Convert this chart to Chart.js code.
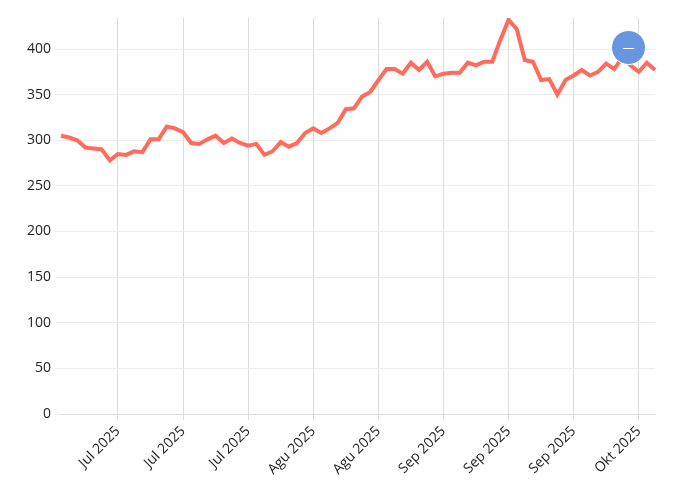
<!DOCTYPE html>
<html><head><meta charset="utf-8">
<script src="https://cdn.jsdelivr.net/npm/chart.js@4"></script>
<style>body{margin:0;background:#fff}#w{position:relative;width:676px;height:500px}
#btn{position:absolute;left:611px;top:30px;width:35px;height:35px;border-radius:50%;background:#6895df;border:1px solid #fff;box-sizing:border-box;color:#fff;font:12px 'Open Sans';display:flex;align-items:center;justify-content:center}</style>
</head><body><div id="w"><canvas id="c" width="676" height="500"></canvas><div id="btn">—</div></div>
<script>
const values=[305,300,292,291,290,278,285,284,288,287,301,301,315,313,309,297,296,301,305,297,302,297,294,296,284,288,298,293,297,308,313,308,313,319,334,335,348,353,366,378,378,373,385,377,386,370,373,374,374,385,382,386,386,410,432,422,388,386,366,367,350,366,371,377,371,375,384,378,391,382,375,385,377];
values.splice(1,0,303);
const tickLabels=['Jul 2025','Jul 2025','Jul 2025','Agu 2025','Agu 2025','Sep 2025','Sep 2025','Sep 2025','Okt 2025'];
const tickIndex=[7,15,23,31,39,47,55,63,71];
const labels=values.map((v,i)=>{const k=tickIndex.indexOf(i);return k>=0?tickLabels[k]:'';});
Chart.defaults.font.family="'Open Sans'";Chart.defaults.font.size=14;Chart.defaults.color='#222';
new Chart(document.getElementById('c'),{type:'line',data:{labels,datasets:[{data:values,borderColor:'#ff6b5c',borderWidth:4,pointRadius:0,tension:0,fill:false}]},
options:{responsive:false,animation:false,layout:{padding:{left:10,right:21,top:18,bottom:0}},plugins:{legend:{display:false},tooltip:{enabled:false}},
scales:{x:{offset:false,afterFit:s=>{s.height=86},grid:{color:'#dcdcdc',tickLength:6},border:{display:true,color:'#dcdcdc'},ticks:{autoSkip:false,maxRotation:45,minRotation:45,callback:(v,i)=>labels[i]===''?null:labels[i]}},
y:{min:0,max:434,afterFit:s=>{s.width=51},afterBuildTicks:a=>{a.ticks=[0,50,100,150,200,250,300,350,400].map(v=>({value:v}))},grid:{color:'#ececec',tickLength:6},border:{display:false},ticks:{padding:4}}}}});
</script></body></html>
